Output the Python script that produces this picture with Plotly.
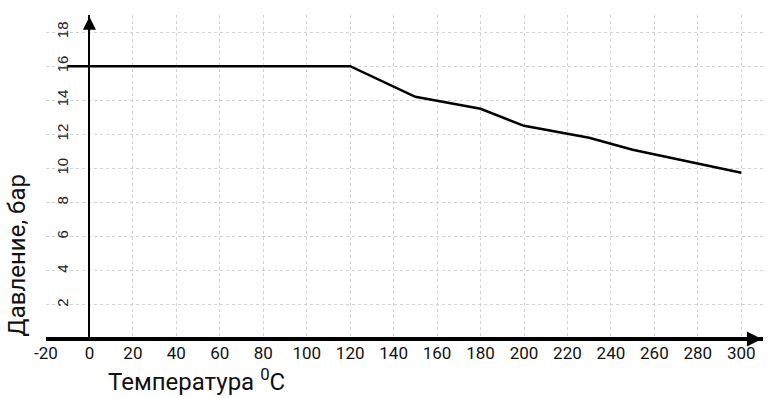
import plotly.graph_objects as go

temperature = [-10, 120, 150, 180, 200, 230, 250, 300]
pressure = [16, 16, 14.2, 13.5, 12.5, 11.8, 11.1, 9.75]

x_ticks = list(range(-20, 301, 20))
y_ticks = list(range(2, 19, 2))

x_range = [-20, 310]
y_range = [0, 19]

narrow = "Roboto, Liberation Sans, sans-serif"

fig = go.Figure()
fig.add_trace(go.Scatter(x=temperature, y=pressure, mode="lines",
                         line=dict(color="#000", width=2.5), showlegend=False))

fig.update_layout(
    width=779, height=398,
    margin=dict(l=46, r=16, t=15, b=59),
    paper_bgcolor="white", plot_bgcolor="white",
    xaxis=dict(range=x_range, tickvals=x_ticks, ticktext=[str(v) for v in x_ticks],
               showgrid=True, gridcolor="#d2d2d2", griddash="dot", gridwidth=1,
               zeroline=True, zerolinecolor="#000", zerolinewidth=2,
               showline=False, ticks="", automargin=False, ticklabelstandoff=2,
               tickfont=dict(family=narrow, size=17, color="#111")),
    yaxis=dict(range=y_range, tickvals=y_ticks, ticktext=[str(v) for v in y_ticks],
               showgrid=True, gridcolor="#d2d2d2", griddash="dot", gridwidth=1,
               zeroline=True, zerolinecolor="#000", zerolinewidth=4,
               showline=False, ticks="", tickangle=-90, automargin=False,
               anchor="free", position=(0 - x_range[0]) / (x_range[1] - x_range[0]),
               ticklabelstandoff=18,
               tickfont=dict(family="Liberation Sans, Arial, sans-serif", size=15, color="#222")),
)

# axis arrows
fig.add_annotation(x=x_range[1] - 0.5, y=0, ax=x_range[1] - 8, ay=0, xref="x", yref="y",
                   axref="x", ayref="y", showarrow=True, arrowhead=2, arrowsize=1,
                   arrowwidth=3, arrowcolor="#000", text="")
fig.add_annotation(x=0, y=y_range[1] - 0.1, ax=0, ay=y_range[1] - 1, xref="x", yref="y",
                   axref="x", ayref="y", showarrow=True, arrowhead=2, arrowsize=1.3,
                   arrowwidth=2, arrowcolor="#000", text="")

fig.add_annotation(text="Температура <sup>0</sup>C", xref="paper", yref="paper",
                   x=0.083, y=-0.127, xanchor="left", yanchor="middle", showarrow=False,
                   font=dict(family=narrow, size=24, color="#111"))
fig.add_annotation(text="Давление, бар", xref="paper", yref="paper",
                   x=-0.04, y=0.259, xanchor="center", yanchor="middle", showarrow=False,
                   textangle=-90, font=dict(family=narrow, size=24, color="#111"))

fig.write_html("out.html", config={"displayModeBar": False},
               post_script="document.body.style.margin='0';")
